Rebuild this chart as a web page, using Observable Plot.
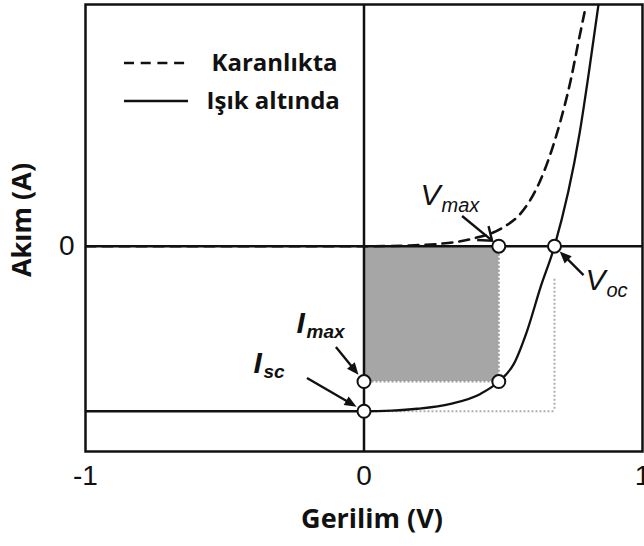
<!DOCTYPE html>
<html>
<head>
<meta charset="utf-8">
<script src="https://cdn.jsdelivr.net/npm/d3@7"></script>
<script src="https://cdn.jsdelivr.net/npm/@observablehq/plot@0.6"></script>
<style>
  html, body { margin: 0; padding: 0; background: #fff; }
  #chart svg { display: block; }
</style>
</head>
<body>
<div id="chart"></div>
<script>
// Characteristic points of the solar cell (volts, amperes in units of Isc)
const Voc = 0.684;
const Isc = -1.0;
const Vmax = 0.484;
const Imax = -0.82;

// Dark I–V curve (Karanlıkta)
const darkV = [-1, 0, 0.15, 0.275, 0.393, 0.501, 0.562, 0.622, 0.67, 0.706, 0.742, 0.771, 0.792];
const darkI = [0, 0, 0.004, 0.015, 0.047, 0.115, 0.198, 0.358, 0.562, 0.762, 1.004, 1.247, 1.418];

// Illuminated I–V curve (Işık altında)
const lightV = [-1, 0, 0.1, 0.191, 0.311, 0.418, 0.484, 0.538, 0.586, 0.634, 0.684, 0.774, 0.81, 0.842];
const lightI = [-1, -1, -0.996, -0.985, -0.955, -0.895, -0.82, -0.713, -0.511, -0.248, 0, 0.683, 1.083, 1.465];

// Axes
const xTicks = [-1, 0, 1];
const yTicks = [0];
const xDomain = [-1, 1];
const yDomain = [-1.244, 1.465];
const xLabel = "Gerilim (V)";
const yLabel = "Akım (A)";

// Legend entries
const legendNames = ["Karanlıkta", "Işık altında"];
const legendDash = ["10,6.7", null];

// Annotation labels: main letter, subscript and where each one sits
const labelMain = ["V", "V", "I", "I"];
const labelSub = ["max", "oc", "max", "sc"];
const labelX = [0.203, 0.795, -0.242, -0.397];
const labelY = [0.247, -0.268, -0.523, -0.771];

// Arrows pointing from the labels to their points
const arrowFromX = [0.354, 0.79, -0.099, -0.203];
const arrowFromY = [0.18, -0.178, -0.614, -0.802];
const arrowToX = [Vmax, Voc, 0, 0];
const arrowToY = [0, 0, Imax, Isc];
const arrowFilled = [false, true, true, true];

const dark = darkV.map((v, i) => ({V: v, I: darkI[i]}));
const light = lightV.map((v, i) => ({V: v, I: lightI[i]}));
const points = [
  {V: 0, I: Isc}, {V: 0, I: Imax}, {V: Vmax, I: Imax}, {V: Vmax, I: 0}, {V: Voc, I: 0}
];
const arrows = arrowFromX.map((x, i) => ({x1: x, y1: arrowFromY[i], x2: arrowToX[i], y2: arrowToY[i], filled: arrowFilled[i]}));
const labels = labelMain.map((m, i) => ({main: m, sub: labelSub[i], V: labelX[i], I: labelY[i]}));
const vLabels = labels.filter(d => d.main === "V");
const iLabels = labels.filter(d => d.main === "I");

const sansBold = "'Open Sans', Lato, sans-serif";
const arial = "'Liberation Sans', Arial, sans-serif";
const grey = "#9a9a9a";

// Legend samples drawn in the top-left corner of the frame
function legendSamples(index, scales, values, dimensions) {
  const g = d3.create("svg:g");
  const x0 = dimensions.marginLeft + 39, x1 = dimensions.marginLeft + 103;
  const rows = [dimensions.marginTop + 59, dimensions.marginTop + 97];
  legendNames.forEach((name, i) => {
    g.append("line")
      .attr("x1", x0).attr("x2", x1)
      .attr("y1", rows[i]).attr("y2", rows[i])
      .attr("stroke", "#111").attr("stroke-width", 2.6)
      .attr("stroke-dasharray", legendDash[i]);
  });
  return g.node();
}

// Arrows: shaft plus a solid or open head, ending just outside the point's circle
function annotationArrows(index, scales, values, dimensions) {
  const g = d3.create("svg:g").attr("stroke", "#111").attr("fill", "#111");
  const inset = 8, len = 12, half = 5;
  arrows.forEach(a => {
    const sx = scales.x(a.x1), sy = scales.y(a.y1);
    const ex0 = scales.x(a.x2), ey0 = scales.y(a.y2);
    const L = Math.hypot(ex0 - sx, ey0 - sy);
    const ux = (ex0 - sx) / L, uy = (ey0 - sy) / L;
    const ex = ex0 - ux * inset, ey = ey0 - uy * inset;
    const bx = ex - ux * len, by = ey - uy * len;
    const px = -uy * half, py = ux * half;
    if (a.filled) {
      g.append("line").attr("x1", sx).attr("y1", sy).attr("x2", bx + ux * 2).attr("y2", by + uy * 2).attr("stroke-width", 2.4);
      g.append("path").attr("stroke", "none")
        .attr("d", `M${ex},${ey}L${bx + px},${by + py}L${bx - px},${by - py}Z`);
    } else {
      g.append("line").attr("x1", sx).attr("y1", sy).attr("x2", ex).attr("y2", ey).attr("stroke-width", 2.4);
      g.append("path").attr("fill", "none").attr("stroke-width", 2.4)
        .attr("d", `M${bx + px * 1.8},${by + py * 1.8}L${ex},${ey}L${bx - px * 1.8},${by - py * 1.8}`);
    }
  });
  return g.node();
}

const chart = Plot.plot({
  width: 644,
  height: 546,
  marginLeft: 85,
  marginRight: 2,
  marginTop: 4,
  marginBottom: 95,
  x: {domain: xDomain},
  y: {domain: yDomain},
  style: {background: "#fff", color: "#111"},
  marks: [
    // maximum power rectangle
    Plot.rect([{x1: 0, x2: Vmax, y1: Imax, y2: 0}], {x1: "x1", x2: "x2", y1: "y1", y2: "y2", fill: "#a6a6a6"}),
    Plot.ruleX([Vmax], {y1: 0, y2: Imax, stroke: grey, strokeWidth: 2, strokeDasharray: "2,2"}),
    Plot.ruleY([Imax], {x1: 0, x2: Vmax, stroke: grey, strokeWidth: 2, strokeDasharray: "2,2"}),
    // Voc × Isc rectangle (dotted)
    Plot.ruleX([Voc], {y1: -0.2, y2: Isc, stroke: "#b0b0b0", strokeWidth: 2, strokeDasharray: "2,2"}),
    Plot.ruleY([Isc], {x1: 0, x2: Voc, stroke: "#b0b0b0", strokeWidth: 2, strokeDasharray: "2,2"}),
    // axes through the origin
    Plot.ruleX([0], {stroke: "#111", strokeWidth: 2.5}),
    Plot.ruleY([0], {stroke: "#111", strokeWidth: 2.5}),
    // curves
    Plot.line(dark, {x: "V", y: "I", curve: "monotone-x", stroke: "#111", strokeWidth: 2.6, strokeDasharray: "10,7", clip: true}),
    Plot.line(light, {x: "V", y: "I", curve: "monotone-x", stroke: "#111", strokeWidth: 2.3, clip: true}),
    // arrows
    annotationArrows,
    // characteristic points
    Plot.dot(points, {x: "V", y: "I", r: 6.5, fill: "#fff", stroke: "#111", strokeWidth: 2}),
    // point labels
    Plot.text(vLabels, {x: "V", y: "I", text: "main", textAnchor: "start", lineAnchor: "bottom",
      fontSize: 30, fontStyle: "italic", fontFamily: arial, fill: "#111"}),
    Plot.text(vLabels, {x: "V", y: "I", text: "sub", textAnchor: "start", lineAnchor: "bottom", dx: 21, dy: 7,
      fontSize: 20, fontStyle: "italic", fontFamily: arial, fill: "#111"}),
    Plot.text(iLabels, {x: "V", y: "I", text: "main", textAnchor: "start", lineAnchor: "bottom",
      fontSize: 30, fontStyle: "italic", fontWeight: "bold", fontFamily: arial, fill: "#111"}),
    Plot.text(iLabels, {x: "V", y: "I", text: "sub", textAnchor: "start", lineAnchor: "bottom", dx: 10, dy: 5,
      fontSize: 19, fontStyle: "italic", fontWeight: "bold", fontFamily: arial, fill: "#111"}),
    // frame and axes
    Plot.frame({stroke: "#111", strokeWidth: 2.5}),
    Plot.axisX({ticks: xTicks, tickSize: 0, tickPadding: 14, fontSize: 28, fontFamily: arial, tickFormat: d => d < 0 ? "-" + Math.abs(d) : String(d)}),
    Plot.axisY({ticks: yTicks, tickSize: 0, tickPadding: 11, fontSize: 28, fontFamily: arial, tickFormat: d => String(d)}),
    Plot.text([xLabel], {frameAnchor: "bottom", dx: 8, dy: 76, fontSize: 27, fontWeight: "bold", fontFamily: sansBold, fill: "#111"}),
    Plot.text([yLabel], {frameAnchor: "left", textAnchor: "middle", dx: -63, dy: -8, rotate: -90, fontSize: 27, fontWeight: "bold", fontFamily: sansBold, fill: "#111"}),
    // legend
    legendSamples,
    Plot.text([legendNames[0]], {frameAnchor: "top-left", dx: 126, dy: 49,
      textAnchor: "start", fontSize: 24, fontWeight: "bold", fontFamily: sansBold, fill: "#111"}),
    Plot.text([legendNames[1]], {frameAnchor: "top-left", dx: 121, dy: 87,
      textAnchor: "start", fontSize: 24, fontWeight: "bold", fontFamily: sansBold, fill: "#111"})
  ]
});

document.getElementById("chart").appendChild(chart);
</script>
</body>
</html>
